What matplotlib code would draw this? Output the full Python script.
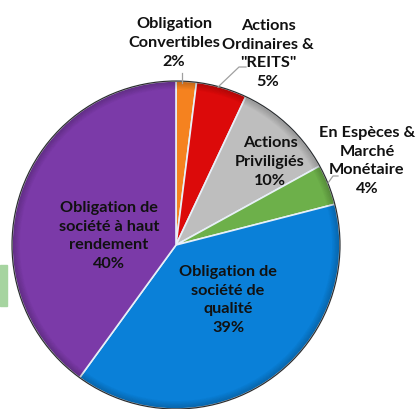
import matplotlib
matplotlib.use('Agg')
import matplotlib.pyplot as plt
import numpy as np
from matplotlib.patches import Rectangle, Wedge

plt.rcParams['font.family'] = ['Lato', 'DejaVu Sans']

# slices, clockwise from 12 o'clock
labels = ['Obligation\nConvertibles', 'Actions\nOrdinaires &\n"REITS"', 'Actions\nPriviligiés',
          'En Espèces &\nMarché\nMonétaire', 'Obligation de\nsociété de\nqualité',
          'Obligation de\nsociété à haut\nrendement']
values = [2, 5, 10, 4, 39, 40]
colors = ['#F5821F', '#DC0A0A', '#BEBEBE', '#6DB04A', '#0A80D8', '#7B3AA8']

# label positions in pixels (x, y from top)
label_pos = [(174, 43), (268, 54), (270, 162), (367, 161), (228, 300), (109, 236)]

W, H = 417, 410
cx, cy, r = 176, 246, 164

fig = plt.figure(figsize=(W / 100, H / 100), dpi=100)
ax = fig.add_axes([0, 0, 1, 1])

# small green box at left edge
ax.add_patch(Rectangle((0, H - 307), 7, 41, color='#A6D4A0', zorder=0))

wedges, _ = ax.pie(values, colors=colors, startangle=90, counterclock=False,
                   center=(cx, H - cy), radius=r, frame=True,
                   wedgeprops=dict(edgecolor='#E8F0F8', linewidth=1.2))
ax.set_xlim(0, W)
ax.set_ylim(0, H)
ax.set_aspect('equal')
ax.axis('off')

# darker rim to mimic the bevel shading
for i in range(10):
    ax.add_patch(Wedge((cx, H - cy), r - i * 0.8, 0, 360, width=0.8,
                       facecolor='black', edgecolor='none', alpha=0.22 * (1 - i / 10), zorder=3))
ax.add_patch(plt.Circle((cx, H - cy), r, fill=False, edgecolor='#2a2a2a', lw=0.8, zorder=4))

for lab, v, (px, py) in zip(labels, values, label_pos):
    ax.text(px, H - py, f'{lab}\n{v}%', ha='center', va='center', fontsize=11.7,
            fontweight='bold', linespacing=1.42, color='#111111', zorder=5)

# leader lines
ax.plot([182, 182], [H - 74, H - 84], color='#A0A0A0', lw=0.9, zorder=5)
ax.plot([246, 239, 218], [H - 68, H - 68, H - 88], color='#A0A0A0', lw=0.9, zorder=5)
ax.plot([338, 333, 328], [H - 177, H - 177, H - 184], color='#A0A0A0', lw=0.9, zorder=5)

fig.savefig('out.png', dpi=100)
